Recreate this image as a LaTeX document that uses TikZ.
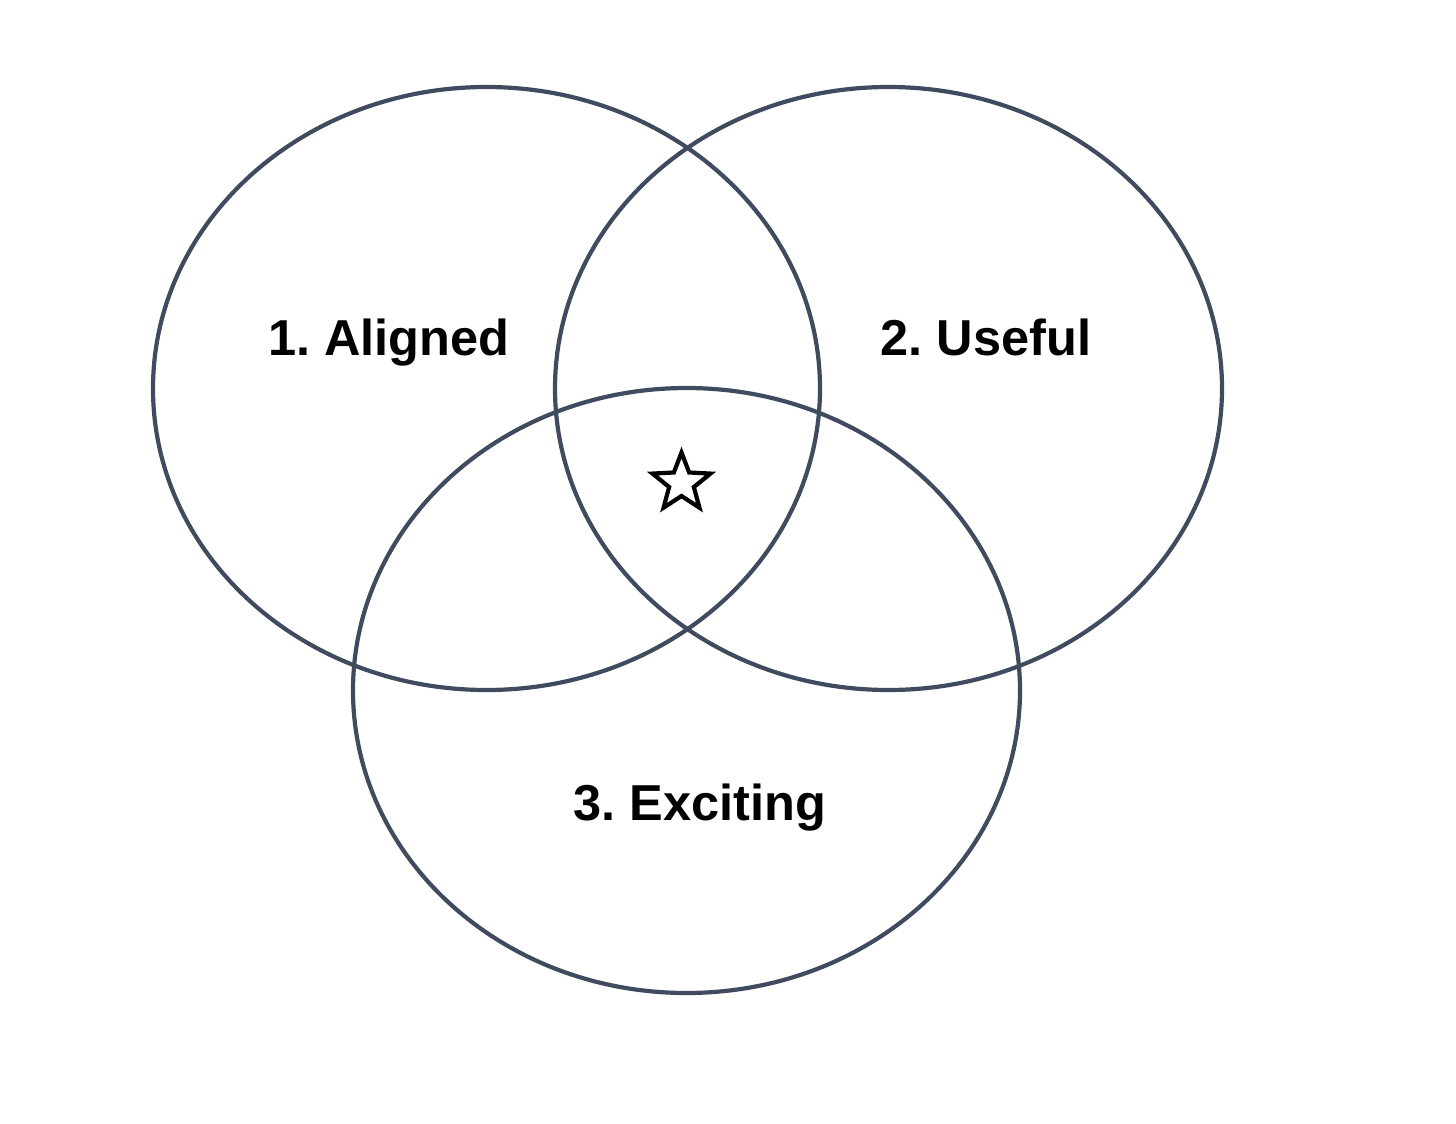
\documentclass[tikz,border=0pt]{standalone}
\usepackage{fontspec}
\setmainfont{Liberation Sans}
\usetikzlibrary{shapes.geometric,calc}
\definecolor{ring}{RGB}{64,75,95}
\frenchspacing
\begin{document}
\begin{tikzpicture}[x=1pt,y=-1pt,
  ring/.style={draw=ring,line width=4.2pt,ellipse,inner sep=0pt},
  lbl/.style={font=\fontsize{50.5}{60}\selectfont\bfseries,anchor=base,inner sep=0pt}]
\useasboundingbox[fill=white] (0,0) rectangle (1456,1124);
\node[ring,minimum width=667pt,minimum height=603pt] (e1) at (486.5,388.5) {};
\node[ring,minimum width=667pt,minimum height=603pt] (e2) at (888.5,388.5) {};
\node[ring,minimum width=667pt,minimum height=605pt] (e3) at (686.5,690.5) {};
\node[lbl] (t1) at (389,355) {1. Aligned};
\node[lbl] (t2) at (986,355) {2. Useful};
\node[lbl] (t3) at (700,820) {3. Exciting};
\coordinate (s) at (681.5,483);
\draw[line width=4.2pt,line join=miter]
  ($(s)+(270:30.5)$) -- ($(s)+(306:13)$) -- ($(s)+(342:30.5)$) -- ($(s)+(18:13)$)
  -- ($(s)+(54:30.5)$) -- ($(s)+(90:13)$) -- ($(s)+(126:30.5)$) -- ($(s)+(162:13)$)
  -- ($(s)+(198:30.5)$) -- ($(s)+(234:13)$) -- cycle;
\end{tikzpicture}
\end{document}
